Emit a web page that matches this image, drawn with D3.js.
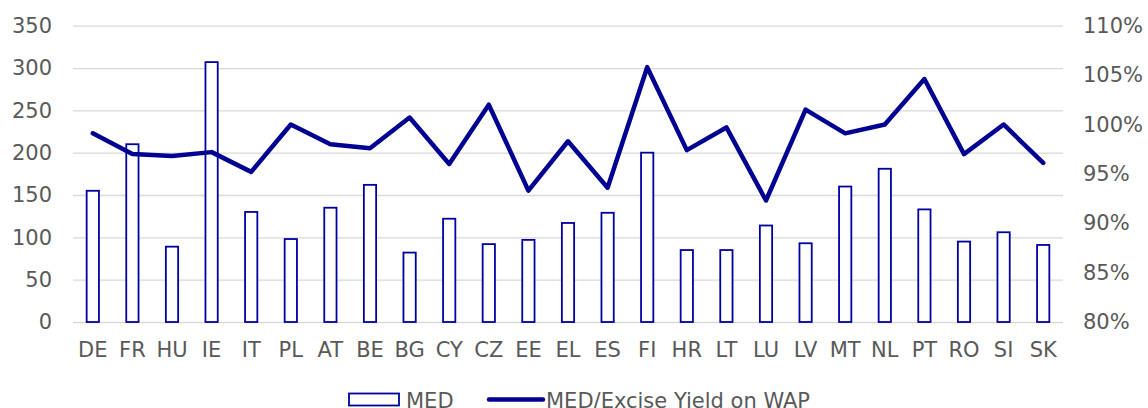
<!DOCTYPE html>
<html>
<head>
<meta charset="utf-8">
<script src="https://cdn.jsdelivr.net/npm/d3@7"></script>
<style>
  body { margin: 0; background: #fff; }
  svg text { font-family: "DejaVu Sans", Verdana, sans-serif; fill: #595959; }
</style>
</head>
<body>
<div id="chart"></div>
<script>
const countries = ["DE", "FR", "HU", "IE", "IT", "PL", "AT", "BE", "BG", "CY", "CZ", "EE", "EL",
  "ES", "FI", "HR", "LT", "LU", "LV", "MT", "NL", "PT", "RO", "SI", "SK"];
const medValues = [155, 210, 89, 307, 130, 98, 135, 162, 82, 122, 92, 97, 117,
  129, 200, 85, 85, 114, 93, 160, 181, 133, 95, 106, 91];
const yieldRatio = [0.991, 0.970, 0.968, 0.972, 0.952, 1.000, 0.980, 0.976, 1.007, 0.960, 1.020, 0.933, 0.983,
  0.936, 1.058, 0.974, 0.997, 0.923, 1.015, 0.991, 1.000, 1.046, 0.970, 1.000, 0.961];
const leftTicks = [0, 50, 100, 150, 200, 250, 300, 350];
const rightTicks = [0.80, 0.85, 0.90, 0.95, 1.00, 1.05, 1.10];

const width = 1148, height = 408;
const margin = { top: 25.7, right: 85, bottom: 86, left: 73 };
const innerW = width - margin.left - margin.right;
const innerH = height - margin.top - margin.bottom;
const navy = "#000091";
const fontSize = "21px";

const svg = d3.select("#chart").append("svg")
  .attr("width", width).attr("height", height);
const g = svg.append("g")
  .attr("transform", `translate(${margin.left},${margin.top})`);

const x = d3.scaleBand().domain(countries).range([0, innerW]).paddingInner(0.69).paddingOuter(0.345);
const xPoint = (d) => x(d) + x.bandwidth() / 2;
const yLeft = d3.scaleLinear().domain([0, 350]).range([innerH, 0]);
const yRight = d3.scaleLinear().domain([0.8, 1.1]).range([innerH, 0]);

// gridlines
g.append("g").call(d3.axisLeft(yLeft).tickValues(leftTicks).tickSize(-innerW).tickFormat(""))
  .call((s) => s.select(".domain").remove())
  .call((s) => s.selectAll("line").attr("stroke", "#d9d9d9").attr("stroke-width", 1.3));

// left axis labels
g.append("g").call(d3.axisLeft(yLeft).tickValues(leftTicks).tickSize(0).tickPadding(21))
  .call((s) => s.select(".domain").remove())
  .call((s) => s.selectAll("text").style("font-size", fontSize).attr("fill", "#595959"));

// right axis labels
g.append("g").attr("transform", `translate(${innerW},0)`)
  .call(d3.axisRight(yRight).tickValues(rightTicks).tickSize(0).tickPadding(20).tickFormat(d3.format(".0%")))
  .call((s) => s.select(".domain").remove())
  .call((s) => s.selectAll("text").style("font-size", fontSize).attr("fill", "#595959"));

// x axis labels
g.append("g").attr("transform", `translate(0,${innerH})`)
  .call(d3.axisBottom(x).tickSize(0).tickPadding(20))
  .call((s) => s.select(".domain").remove())
  .call((s) => s.selectAll("text").style("font-size", fontSize).attr("fill", "#595959"));

// bars
g.selectAll(".bar").data(countries).join("rect")
  .attr("class", "bar")
  .attr("x", (d) => x(d))
  .attr("y", (d, i) => yLeft(medValues[i]))
  .attr("width", x.bandwidth())
  .attr("height", (d, i) => innerH - yLeft(medValues[i]))
  .attr("fill", "#fff")
  .attr("stroke", "#0000a0")
  .attr("stroke-width", 1.8);

// line
const line = d3.line()
  .x((d) => xPoint(d))
  .y((d, i) => yRight(yieldRatio[i]));
g.append("path").datum(countries)
  .attr("d", line)
  .attr("fill", "none")
  .attr("stroke", navy)
  .attr("stroke-width", 4.5)
  .attr("stroke-linejoin", "round")
  .attr("stroke-linecap", "round");

// legend (cut at the bottom edge, like the source image)
const legend = svg.append("g").attr("transform", "translate(0,399.5)");
legend.append("rect")
  .attr("x", 349).attr("y", -6).attr("width", 50).attr("height", 12)
  .attr("fill", "#fff").attr("stroke", "#0000a0").attr("stroke-width", 1.8);
legend.append("text").attr("x", 406).attr("y", 0).attr("dy", "0.4em")
  .style("font-size", fontSize).text("MED");
legend.append("line")
  .attr("x1", 489).attr("x2", 543).attr("y1", 0).attr("y2", 0)
  .attr("stroke", navy).attr("stroke-width", 4.5).attr("stroke-linecap", "round");
legend.append("text").attr("x", 546).attr("y", 0).attr("dy", "0.4em")
  .style("font-size", fontSize).text("MED/Excise Yield on WAP");
</script>
</body>
</html>
